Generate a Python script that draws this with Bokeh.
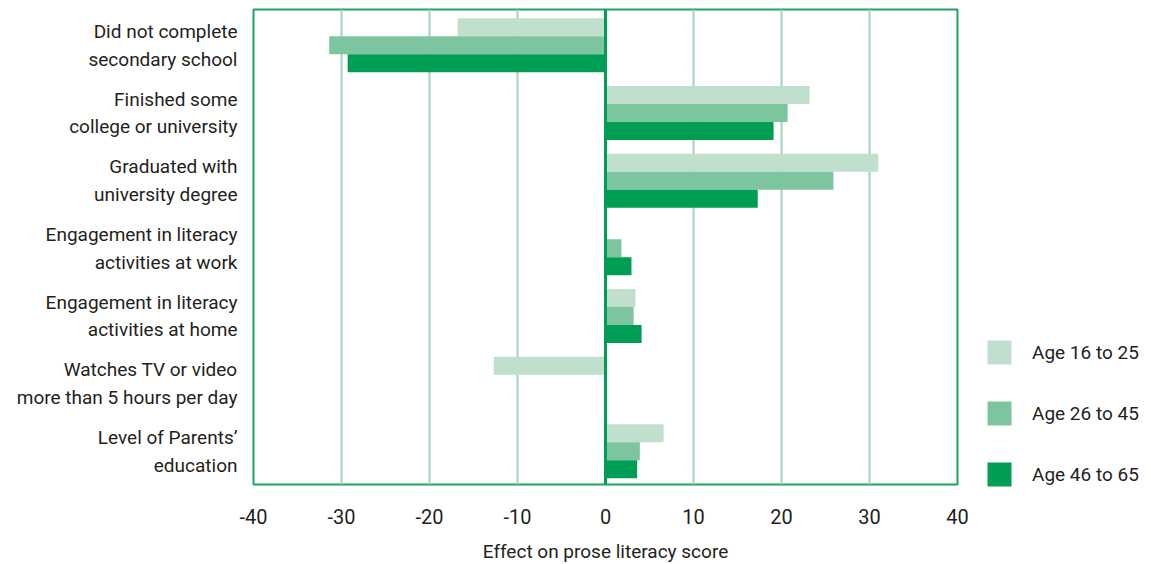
from bokeh.plotting import figure
from bokeh.models import Range1d, FixedTicker, Legend, LegendItem, Span, ColumnDataSource
from bokeh.embed import file_html
from bokeh.resources import INLINE

categories = [
    "Did not complete\nsecondary school",
    "Finished some\ncollege or university",
    "Graduated with\nuniversity degree",
    "Engagement in literacy\nactivities at work",
    "Engagement in literacy\nactivities at home",
    "Watches TV or video\nmore than 5 hours per day",
    "Level of Parents’\neducation",
]
series_names = ["Age 16 to 25", "Age 26 to 45", "Age 46 to 65"]
age_16_25 = [-16.8, 23.2, 31.0, 0.0, 3.4, -12.7, 6.6]
age_26_45 = [-31.4, 20.7, 25.9, 1.8, 3.2, 0.0, 3.9]
age_46_65 = [-29.3, 19.1, 17.3, 2.95, 4.1, 0.0, 3.6]
x_ticks = [-40, -30, -20, -10, 0, 10, 20, 30, 40]

colors = ["#c0e0cd", "#7dc59f", "#009e55"]
FONT = "Roboto"
TXT = "#231f20"
FS = "19px"

p = figure(frame_width=704, frame_height=475, output_backend="svg", toolbar_location=None,
           x_range=Range1d(-40, 40), y_range=Range1d(6.49, -0.53),
           min_border_top=9, min_border_left=253, min_border_right=5, min_border_bottom=60)

bh = 0.266
offsets = [-bh, 0.0, bh]
renderers = []
for vals, off, col in zip([age_16_25, age_26_45, age_46_65], offsets, colors):
    src = ColumnDataSource(dict(y=[i + off for i in range(len(categories))], right=vals))
    r = p.hbar(y="y", left=0, right="right", height=bh, source=src,
               fill_color=col, line_color=None)
    renderers.append(r)

# axes
p.xaxis.ticker = FixedTicker(ticks=x_ticks)
p.xaxis.major_label_overrides = {t: str(t) for t in x_ticks}
p.xaxis.axis_label = "Effect on prose literacy score"
p.xaxis.axis_line_color = None
p.xaxis.major_tick_line_color = None
p.xaxis.minor_tick_line_color = None
p.xaxis.major_label_standoff = 18
p.xaxis.axis_label_standoff = 13
p.xaxis.major_label_text_font = FONT
p.xaxis.major_label_text_font_size = "20px"
p.xaxis.major_label_text_color = TXT
p.xaxis.axis_label_text_font = FONT
p.xaxis.axis_label_text_font_size = FS
p.xaxis.axis_label_text_font_style = "normal"
p.xaxis.axis_label_text_color = TXT

p.yaxis.ticker = FixedTicker(ticks=list(range(len(categories))))
p.yaxis.major_label_overrides = {i: c for i, c in enumerate(categories)}
p.yaxis.axis_line_color = None
p.yaxis.major_tick_line_color = None
p.yaxis.minor_tick_line_color = None
p.yaxis.major_label_standoff = 10
p.yaxis.major_label_text_font = FONT
p.yaxis.major_label_text_font_size = FS
p.yaxis.major_label_text_color = TXT
p.yaxis.major_label_text_line_height = 1.2

p.ygrid.grid_line_color = None
p.xgrid.ticker = FixedTicker(ticks=[-30, -20, -10, 10, 20, 30])
p.xgrid.grid_line_color = "#9fd5b8"
p.xgrid.grid_line_width = 2

p.add_layout(Span(location=0, dimension="height", line_color="#009e55", line_width=3))

p.outline_line_color = "#1fa463"
p.outline_line_width = 2

legend = Legend(items=[LegendItem(label=n, renderers=[r]) for n, r in zip(series_names, renderers)],
                location=(27, -5), border_line_color=None, background_fill_alpha=0,
                glyph_width=30, glyph_height=30, spacing=31, label_standoff=18,
                label_text_font=FONT, label_text_font_size=FS, label_text_color=TXT,
                margin=0, padding=0)
p.add_layout(legend, "right")

open("out.html", "w").write(file_html(p, INLINE))
